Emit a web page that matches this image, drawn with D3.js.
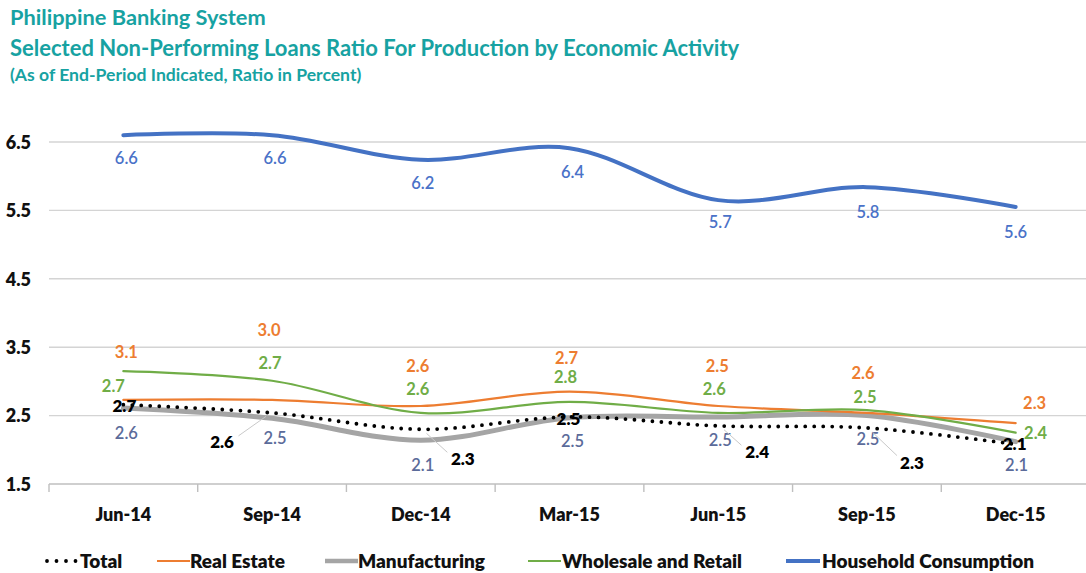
<!DOCTYPE html>
<html>
<head>
<meta charset="utf-8">
<script src="https://cdn.jsdelivr.net/npm/d3@7"></script>
<style>
  html, body { margin: 0; padding: 0; background: #fff; }
  svg { display: block; font-family: Lato, "Open Sans", sans-serif; }
</style>
</head>
<body>
<svg id="chart" width="1086" height="573"></svg>
<script>
// ---------- data ----------
const categories = ["Jun-14", "Sep-14", "Dec-14", "Mar-15", "Jun-15", "Sep-15", "Dec-15"];
const yTicks = [1.5, 2.5, 3.5, 4.5, 5.5, 6.5];

// line values (as drawn)
const total         = [2.66, 2.54, 2.30, 2.48, 2.35, 2.32, 2.08];
const realEstate    = [2.73, 2.73, 2.64, 2.85, 2.64, 2.54, 2.39];
const manufacturing = [2.61, 2.46, 2.14, 2.47, 2.48, 2.50, 2.12];
const wholesale     = [3.15, 3.01, 2.54, 2.70, 2.54, 2.58, 2.25];
const household     = [6.60, 6.60, 6.24, 6.41, 5.65, 5.84, 5.55];

// data labels (as printed)
const totalLabels         = [2.7, 2.6, 2.3, 2.5, 2.4, 2.3, 2.1];
const realEstateLabels    = [3.1, 3.0, 2.6, 2.7, 2.5, 2.6, 2.3];
const manufacturingLabels = [2.6, 2.5, 2.1, 2.5, 2.5, 2.5, 2.1];
const wholesaleLabels     = [2.7, 2.7, 2.6, 2.8, 2.6, 2.5, 2.4];
const householdLabels     = [6.6, 6.6, 6.2, 6.4, 5.7, 5.8, 5.6];

const titleLines = [
  "Philippine Banking System",
  "Selected Non-Performing Loans Ratio For Production by Economic Activity",
  "(As of End-Period Indicated, Ratio in Percent)"
];

// ---------- layout / style ----------
const W = 1086, H = 573;
const plot = { left: 49, right: 1090, top: 142, bottom: 484 };

// label placement offsets (px) relative to each point
const labelLayout = {
  total:         { dx: [1, -50, 42, -1, 39, 45, -1],  dy: [1, 29, 30, 2, 26, 35, 0], leader: [0,1,1,0,1,1,0] },
  realEstate:    { dx: [3, -3, -3, -3, -1, -4, 19],   dy: [-48, -70, -40, -33, -40, -40, -20] },
  manufacturing: { dx: [3, 3, 2, 3, 2, 1, 1],         dy: [25, 20, 25, 24, 23, 24, 24] },
  wholesale:     { dx: [-10, -2, -3, -4, -4, -2, 20], dy: [15, -17, -24, -25, -24, -13, 1] },
  household:     { dx: [3, 3, 2, 3, 2, 1, 0],         dy: [23, 23, 23, 24, 22, 25, 25] }
};

const series = [
  { key: "manufacturing", name: "Manufacturing", values: manufacturing, labels: manufacturingLabels,
    color: "#a5a5a5", width: 5, labelColor: "#5b6b9a", labelSize: 16.5, labelWeight: 600 },
  { key: "realEstate", name: "Real Estate", values: realEstate, labels: realEstateLabels,
    color: "#ed7d31", width: 2.2, labelColor: "#ed7d31", labelSize: 16.5, labelWeight: 700 },
  { key: "wholesale", name: "Wholesale and Retail", values: wholesale, labels: wholesaleLabels,
    color: "#70ad47", width: 2.2, labelColor: "#70ad47", labelSize: 16.5, labelWeight: 700 },
  { key: "household", name: "Household Consumption", values: household, labels: householdLabels,
    color: "#4472c4", width: 4, labelColor: "#4a72c8", labelSize: 16.5, labelWeight: 600 },
  { key: "total", name: "Total", values: total, labels: totalLabels,
    color: "#000000", width: 3.8, dotted: true, labelColor: "#000000", labelSize: 17, labelWeight: 800 }
];

const legendItems = [
  { key: "total", x0: 45, x1: 77, tx: 80 },
  { key: "realEstate", x0: 157, x1: 190, tx: 190 },
  { key: "manufacturing", x0: 325, x1: 358, tx: 358 },
  { key: "wholesale", x0: 528, x1: 561, tx: 562 },
  { key: "household", x0: 786, x1: 820, tx: 822 }
];

// ---------- drawing ----------
const svg = d3.select("#chart");
svg.append("rect").attr("width", W).attr("height", H).attr("fill", "#fff");

// titles
const teal = "#17a2a2";
const tg = svg.append("g").attr("fill", teal).attr("font-weight", 700);
tg.append("text").attr("x", 10).attr("y", 25).attr("font-size", 21.8).text(titleLines[0]);
tg.append("text").attr("x", 10).attr("y", 56).attr("font-size", 22).text(titleLines[1]);
tg.append("text").attr("x", 10).attr("y", 81).attr("font-size", 17.6).text(titleLines[2]);

const x = d3.scaleBand().domain(categories).range([plot.left, plot.right]).padding(0);
const xc = c => x(c) + x.bandwidth() / 2;
const y = d3.scaleLinear().domain([1.5, 6.5]).range([plot.bottom, plot.top]);

// gridlines
const grid = svg.append("g");
grid.selectAll("line").data(yTicks).join("line")
  .attr("x1", plot.left).attr("x2", plot.right)
  .attr("y1", d => y(d)).attr("y2", d => y(d))
  .attr("stroke", d => d === 1.5 ? "#bfbfbf" : "#d4d4d4")
  .attr("stroke-width", 1.4);

// y axis labels
const yAxis = d3.axisLeft(y).tickValues(yTicks).tickFormat(d3.format(".1f")).tickSize(0).tickPadding(0);
const yg = svg.append("g").attr("transform", `translate(31,0)`).call(yAxis);
yg.select(".domain").remove();
yg.selectAll("text").attr("font-size", 18).attr("font-weight", 800).attr("fill", "#111")
  .attr("font-family", "Lato, sans-serif").attr("dy", "0.35em");

// x axis
const xAxis = d3.axisBottom(x).tickSize(0).tickPadding(0);
const xg = svg.append("g").attr("transform", `translate(0,${plot.bottom})`).call(xAxis);
xg.select(".domain").remove();
xg.selectAll("text").attr("font-size", 18).attr("font-weight", 800).attr("fill", "#111")
  .attr("font-family", "Lato, sans-serif").attr("y", 31).attr("dy", "0.35em");
// boundary tick marks
const bounds = categories.map(c => x(c)).concat([plot.right]);
svg.append("g").selectAll("line").data(bounds).join("line")
  .attr("x1", d => d).attr("x2", d => d)
  .attr("y1", plot.bottom).attr("y2", plot.bottom + 8)
  .attr("stroke", "#bfbfbf").attr("stroke-width", 1.4);

// lines
const lineGen = d3.line().x((d, i) => xc(categories[i])).y(d => y(d)).curve(d3.curveCardinal.tension(0));
const lg = svg.append("g").attr("fill", "none");
series.forEach(s => {
  const p = lg.append("path").datum(s.values)
    .attr("d", lineGen)
    .attr("stroke", s.color)
    .attr("stroke-width", s.width)
    .attr("stroke-linecap", "round")
    .attr("stroke-linejoin", "round");
  if (s.dotted) p.attr("stroke-dasharray", "0 9");
});

// labels
const fmt = d3.format(".1f");
const labG = svg.append("g").attr("text-anchor", "middle");
series.forEach(s => {
  const lay = labelLayout[s.key];
  s.labels.forEach((v, i) => {
    const px = xc(categories[i]), py = y(s.values[i]);
    const lx = px + lay.dx[i], ly = py + lay.dy[i];
    if (lay.leader && lay.leader[i]) {
      const dx = lx - px, dy = ly - py, len = Math.hypot(dx, dy);
      const ux = dx / len, uy = dy / len;
      labG.append("line")
        .attr("x1", px + ux * 7).attr("y1", py + uy * 7)
        .attr("x2", lx - ux * 19).attr("y2", ly - uy * 12)
        .attr("stroke", "#c9c9c9").attr("stroke-width", 1);
    }
    labG.append("text")
      .attr("x", lx).attr("y", ly).attr("dy", "0.35em")
      .attr("fill", s.labelColor)
      .attr("font-size", s.labelSize)
      .attr("font-weight", s.labelWeight)
      .text(fmt(v));
  });
});

// legend
const legY = 561;
const leg = svg.append("g");
legendItems.forEach(item => {
  const s = series.find(d => d.key === item.key);
  const l = leg.append("line")
    .attr("x1", item.x0).attr("x2", item.x1).attr("y1", legY).attr("y2", legY)
    .attr("stroke", s.color).attr("stroke-width", s.dotted ? 3.8 : Math.min(s.width, 4.5))
    .attr("stroke-linecap", s.dotted ? "round" : "butt");
  if (s.dotted) l.attr("stroke-dasharray", "0 9.5").attr("x1", item.x0 + 2);
  leg.append("text").attr("x", item.tx).attr("y", legY).attr("dy", "0.35em")
    .attr("font-size", 19).attr("font-weight", 800).attr("fill", "#111")
    .text(s.name);
});
</script>
</body>
</html>
